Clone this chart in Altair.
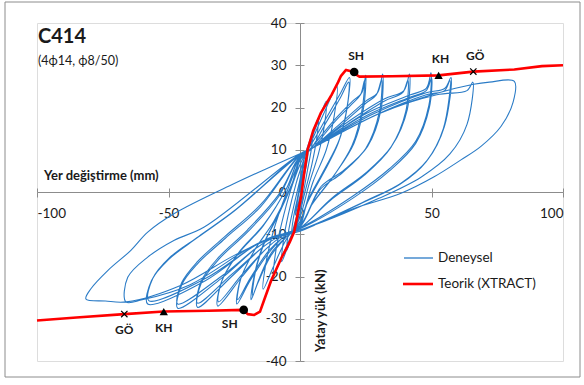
import altair as alt
import pandas as pd

# Cyclic test record: (displacement mm, lateral load kN) in loading order
stage_small = [
    (0, 0), (1, 3.5), (1.8, 5.5), (1.2, 3), (0, -1), (-1, -3.5), (-1.8, -5.5), (-1.2, -3), (0, 1),
    (1.2, 5.5), (2.5, 8.5), (3.2, 10.5), (2.6, 7), (1, 2), (0, -2), (-1.2, -5.5), (-2.5, -8.5),
    (-3.2, -10), (-2.6, -6.5), (-1, -1.5), (0, 2),
    (1.5, 7.5), (3.5, 11.5), (5, 14.5), (4.4, 10.5), (2.8, 5), (0.5, -2.5), (-1.5, -7), (-3.5, -11),
    (-5, -13.8), (-4.4, -9.5), (-2.6, -4), (0, 3),
    (2, 9), (4.5, 13.5), (7, 17.5), (6.3, 12.5), (4.5, 6.5), (1.5, -1), (0, -5), (-2.5, -9.5),
    (-5, -13.5), (-7, -16.5), (-6.3, -11.5), (-4.5, -5.5), (-1.5, 2), (0, 5),
    (3, 10.5), (6.5, 16), (10, 21.5), (9.2, 15.5), (7, 9), (3.5, 2), (0, -6), (-3.5, -10.5),
    (-7, -15.5), (-10, -19.5), (-9.2, -14), (-7, -7.5), (-3.5, 0.5), (0, 6.5),
    (4, 11.5), (9, 18.5), (14, 25), (13, 18), (10, 10), (5, 2.5), (0, -7), (-5, -11),
    (-10, -17.5), (-14, -23), (-13, -17), (-10, -9), (-5, 0), (0, 7.5),
]

stage_mid = [
    (4, 11), (10, 17.5), (15.5, 23.5), (18.8, 27.1), (18, 20.5), (15, 12.5), (9, 5), (3, -2),
    (0, -7.5), (-5, -10.5), (-11, -15), (-16, -21.5), (-18.6, -25.5), (-17.5, -20), (-14, -12.5),
    (-8, -5), (-2, 3.5), (0, 7.5),
    (4.5, 10.5), (10, 16.5), (15.5, 22.5), (18.5, 26), (17.8, 19.5), (14.5, 11.5), (8.5, 4),
    (2.5, -3), (0, -8), (-5, -10.5), (-11, -14.5), (-15.5, -20.5), (-18, -24.5), (-17, -19),
    (-13.5, -12), (-7.5, -4.5), (-2, 3.5), (0, 7.5),
    (5, 11), (13, 17), (20, 21.5), (23.5, 23.5), (25, 27.6), (24.2, 20), (20.5, 11.5), (13, 4),
    (5, -2.5), (0, -8), (-6, -10.5), (-12, -14.5), (-19, -21), (-24, -26.5), (-22.8, -21),
    (-17.5, -14), (-10, -7), (-3, 2), (0, 7.8),
    (5, 10.5), (13, 16.5), (20, 21), (23, 23), (24.5, 26.4), (23.6, 19.5), (19.8, 11),
    (12.5, 3.5), (4.5, -3), (0, -8.3), (-6, -10.5), (-12, -14), (-19, -20.5), (-23.7, -25.5),
    (-22.5, -20.5), (-17, -13.5), (-9.5, -6.5), (-3, 2), (0, 8),
    (5, 10.5), (15, 16), (25, 21.5), (29.5, 23.5), (31.4, 27.9), (30.8, 19.5), (25.7, 10.8),
    (16.8, 5.2), (8, 1.3), (0, -8), (-7, -10.5), (-13, -13.5), (-22, -20), (-31.3, -27),
    (-30, -21.5), (-24, -15), (-14, -8), (-5, 1), (0, 8.2),
    (5, 10.5), (15, 15.5), (25, 21), (29, 23), (31, 26.6), (30.2, 19), (25, 10.3), (16, 4.5),
    (7.5, 0.5), (0, -8.3), (-7, -10.5), (-13, -13.5), (-22, -19.5), (-31, -26), (-29.7, -21),
    (-23.5, -14.5), (-13.5, -7.5), (-5, 1), (0, 8.3),
]

stage_large = [
    (5, 10.5), (18, 16.5), (32, 22), (39.5, 24), (41.6, 27.9), (40.8, 19.5), (35, 11), (25, 4.5),
    (12, -1.5), (0, -8.5), (-8, -10.5), (-14, -13), (-26, -20), (-39, -27.3), (-37.5, -21.5),
    (-31, -16), (-20, -9.5), (-8, -1), (0, 8.5),
    (5, 10.5), (18, 16), (32, 21.5), (39, 23.5), (41, 26.5), (40.2, 19), (34.5, 10.5), (24.5, 4),
    (11.5, -2), (0, -8.5), (-8, -10.5), (-14, -13), (-26, -19.5), (-39, -26.3), (-37.5, -21),
    (-31, -15.5), (-20, -9), (-8, -0.5), (0, 8.5),
    (5, 10.5), (25, 18.5), (42, 23), (48, 24.5), (49.8, 28.2), (49, 20.5), (44, 12), (34, 5.5),
    (20, -1), (0, -8.5), (-9, -10.5), (-16, -13), (-30, -20.5), (-46.5, -27.5), (-45, -22),
    (-39, -17), (-28.5, -11), (-15, -3.5), (0, 8.7),
    (5, 10.5), (25, 18), (42, 22.5), (48, 24), (50, 27), (49.2, 20), (44, 11.5), (34, 5),
    (20, -1.5), (0, -8.7), (-9, -10.5), (-16, -13), (-30, -20), (-46.5, -26.5), (-45, -21.5),
    (-39, -16.5), (-28.5, -10.5), (-15, -3), (0, 8.8),
    (5, 10.5), (28, 18.5), (48, 23.5), (55, 24.5), (57.4, 27.1), (54.9, 15.5), (48.5, 7.6),
    (38.4, 2.1), (25.7, -1.9), (0, -9), (-10, -10.5), (-18, -13), (-36, -21), (-57.9, -26.5),
    (-56.5, -21), (-50, -16), (-39, -10.8), (-25, -4.5), (0, 8.8),
    (5, 10.5), (28, 18), (48, 23), (55, 24), (57, 26.4), (54.5, 15), (48, 7.2), (38, 1.8),
    (25, -2.2), (0, -9), (-10, -10.5), (-18, -13), (-36, -20.5), (-57.5, -25.7), (-56, -20.5),
    (-49.5, -15.5), (-38.5, -10.5), (-24.5, -4.2), (0, 9),
]

stage_final = [
    (5, 10.5), (30, 18.5), (52, 23), (63.5, 24), (65.7, 26), (63.5, 16), (57, 9), (46, 3.5),
    (30, -1.5), (0, -9), (-10, -10.5), (-20, -13.5), (-42, -22), (-60, -25.5), (-66.2, -26),
    (-65.5, -20.2), (-57.9, -15.4), (-47.8, -11.4), (-36.4, -8.3), (0, 9),
    (5, 10.5), (30, 18.5), (50, 23), (66, 25.5), (72, 26), (81.5, 26.2), (81, 21.2), (76.4, 15.5),
    (68.8, 10.8), (61.2, 7.6), (51, 3.6), (38.4, -0.3), (20, -4), (5.3, -7.9), (0, -9.3),
    (-10, -10.8), (-25, -15), (-45, -22), (-66, -26), (-74, -25.8), (-81.4, -25.3), (-79.5, -22.9),
    (-73.1, -18.6), (-64.3, -13.8), (-57.9, -9.5), (-47.8, -5.1), (-25, 2), (0.4, 9.2),
]

# Theoretical (XTRACT) envelope
teorik_mm = [-100, -85, -66.8, -51.8, -35, -21.4, -19.9, -17.4, -15.2, -13.6, -11, -7, -4, -2.2,
             0.4, 1.5, 2.9, 5, 8, 12, 14.5, 15.6, 17.5, 20.6, 21.8, 22.6, 35, 52.7, 65.9, 81.5,
             92, 100]
teorik_kn = [-30.4, -29.7, -28.9, -28.3, -28.1, -27.9, -28.9, -29.1, -28.3, -25.5, -21, -15.5,
             -12, -9.4, -1.2, 4, 10, 14.5, 18.8, 23, 26, 27.5, 28.9, 28.4, 27.6, 27.3, 27.4, 27.6,
             28.5, 29, 29.8, 30]

# Performance points on the envelope
nokta_ad = ["SH", "KH", "GÖ", "SH", "KH", "GÖ"]
nokta_mm = [20.6, 52.7, 65.9, -21.4, -51.8, -66.8]
nokta_kn = [28.4, 27.6, 28.5, -27.9, -28.3, -28.9]

seriler = ["Deneysel", "Teorik (XTRACT)"]
renkler = ["#2a7bc6", "#ff0000"]

FONT = "Lato"
AXIS_GREY = "#8c8c8c"

exp_pts = stage_small + stage_mid + stage_large + stage_final
deneysel = pd.DataFrame(exp_pts, columns=["mm", "kN"])
deneysel["i"] = range(len(deneysel))

teorik = pd.DataFrame({"mm": teorik_mm, "kN": teorik_kn})
teorik["i"] = range(len(teorik))

noktalar = pd.DataFrame({"ad": nokta_ad, "mm": nokta_mm, "kN": nokta_kn})

W, H = 526, 338

x_scale = alt.Scale(domain=[-100, 100], nice=False, zero=False)
y_scale = alt.Scale(domain=[-40, 40], nice=False, zero=False)

axis_common = dict(
    grid=False, domainColor=AXIS_GREY, tickColor=AXIS_GREY, labelFont=FONT,
    labelFontSize=13.5, labelColor="#1a1a1a", title=None, tickSize=5,
    labelExpr="'' + datum.value",
)

x_axis = alt.Axis(values=[-100, -50, 0, 50, 100], orient="bottom", offset=-H / 2,
                  labelPadding=9, **axis_common)
y_axis = alt.Axis(values=list(range(-40, 41, 10)), orient="left", offset=-W / 2,
                  labelPadding=9, **axis_common)

# Mirror axes give the ticks a crossing look
x_axis2 = alt.Axis(values=[-100, -50, 0, 50, 100], orient="top", offset=-H / 2, labels=False,
                   domain=False, grid=False, tickColor=AXIS_GREY, tickSize=4, title=None)
y_axis2 = alt.Axis(values=list(range(-40, 41, 10)), orient="right", offset=-W / 2, labels=False,
                   domain=False, grid=False, tickColor=AXIS_GREY, tickSize=4, title=None)

exp_line = alt.Chart(deneysel).mark_line(
    color=renkler[0], strokeWidth=1.1, interpolate="catmull-rom", strokeJoin="round",
).encode(
    x=alt.X("mm:Q", scale=x_scale, axis=x_axis),
    y=alt.Y("kN:Q", scale=y_scale, axis=y_axis),
    order="i:Q",
)

th_line = alt.Chart(teorik).mark_line(
    color=renkler[1], strokeWidth=2.6, strokeJoin="round",
).encode(
    x=alt.X("mm:Q", scale=x_scale, axis=None),
    y=alt.Y("kN:Q", scale=y_scale, axis=None),
    order="i:Q",
)

def marker(name, shape, filled, size):
    return alt.Chart(noktalar[noktalar["ad"] == name]).mark_point(
        shape=shape, filled=filled, size=size, color="black", opacity=1, strokeWidth=1.2,
    ).encode(
        x=alt.X("mm:Q", scale=x_scale, axis=None),
        y=alt.Y("kN:Q", scale=y_scale, axis=None),
    )

sh_pts = marker("SH", "circle", True, 75)
kh_pts = marker("KH", "triangle-up", True, 70)
go_pts = alt.Chart(noktalar[noktalar["ad"] == "GÖ"]).mark_point(
    shape="M-1,-1L1,1M-1,1L1,-1", filled=False, size=40, color="black", opacity=1, strokeWidth=1.2,
).encode(
    x=alt.X("mm:Q", scale=x_scale, axis=x_axis2),
    y=alt.Y("kN:Q", scale=y_scale, axis=y_axis2),
)

def point_labels(subset, dx, dy):
    return alt.Chart(subset).mark_text(
        font=FONT, fontSize=12, fontWeight="bold", color="#1a1a1a", dx=dx, dy=dy,
        baseline="middle",
    ).encode(
        x=alt.X("mm:Q", scale=x_scale, axis=None),
        y=alt.Y("kN:Q", scale=y_scale, axis=None),
        text="ad:N",
    )

pos = noktalar[noktalar["kN"] > 0]
neg = noktalar[noktalar["kN"] < 0]
lbl_pos = point_labels(pos, 2, -16)
lbl_neg = point_labels(neg[neg["ad"] != "SH"], 0, 16)
lbl_neg_sh = point_labels(neg[neg["ad"] == "SH"], -14, 14)

one = pd.DataFrame({"a": [0]})

def free_text(txt, x, y, size, weight="normal", angle=0, align="left"):
    return alt.Chart(one).mark_text(
        text=txt, font=FONT, fontSize=size, fontWeight=weight, color="#1a1a1a",
        align=align, baseline="alphabetic", angle=angle,
    ).encode(x=alt.value(x), y=alt.value(y))

title = free_text("C414", 1, 20, 20, "bold")
subtitle = free_text("(4ϕ14, ϕ8/50)", 1, 42, 12.5)
x_title = free_text("Yer değiştirme (mm)", 7, 157, 13, "bold")
y_title = free_text("Yatay yük (kN)", 288, 329, 13, "bold", angle=270)

# Legend
leg_blue = alt.Chart(one).mark_rule(color=renkler[0], strokeWidth=1.3).encode(
    x=alt.value(367), x2=alt.value(396), y=alt.value(235))
leg_red = alt.Chart(one).mark_rule(color=renkler[1], strokeWidth=2.6).encode(
    x=alt.value(366), x2=alt.value(396), y=alt.value(261))
leg_t1 = alt.Chart(one).mark_text(text=seriler[0], font=FONT, fontSize=13.5, color="#1a1a1a",
                                  align="left", baseline="middle").encode(
    x=alt.value(401), y=alt.value(235))
leg_t2 = alt.Chart(one).mark_text(text=seriler[1], font=FONT, fontSize=13.5, color="#1a1a1a",
                                  align="left", baseline="middle").encode(
    x=alt.value(401), y=alt.value(261))

# Outer frame around the whole figure
frame = alt.Chart(one).mark_rect(fillOpacity=0, stroke=AXIS_GREY, strokeWidth=1).encode(
    x=alt.value(-32), x2=alt.value(543), y=alt.value(-21), y2=alt.value(354))

chart = alt.layer(
    frame, exp_line, th_line, go_pts, sh_pts, kh_pts, lbl_pos, lbl_neg, lbl_neg_sh,
    title, subtitle, x_title, y_title, leg_blue, leg_red, leg_t1, leg_t2,
).resolve_axis(x="independent", y="independent").properties(
    width=W, height=H,
    autosize=alt.AutoSizeParams(type="none"),
    padding={"left": 37, "top": 23, "right": 21, "bottom": 24},
).configure_view(stroke=None).configure(background="white")

chart.save("out.html", embed_options={"renderer": "svg", "actions": False})
